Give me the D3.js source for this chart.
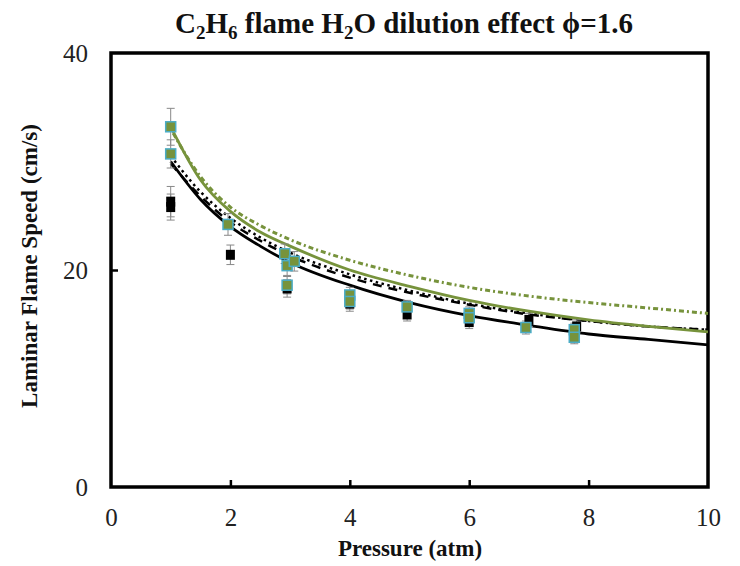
<!DOCTYPE html>
<html>
<head>
<meta charset="utf-8">
<script src="https://cdn.jsdelivr.net/npm/d3@7"></script>
<style>
  body { margin: 0; background: #fff; }
  svg { font-family: "Liberation Serif", "Times New Roman", serif; }
</style>
</head>
<body>
<svg id="chart" width="740" height="566"></svg>
<script>
// model curves (pressure grid shared by all)
var modelP = [1, 1.5, 2, 2.5, 3, 4, 5, 6, 7, 8, 9, 10];
var blackSolid  = [30.0, 26.5, 24.0, 22.2, 20.7, 18.6, 17.0, 15.8, 14.9, 14.1, 13.6, 13.1];
var blackDotted = [30.5, 27.2, 24.8, 23.0, 21.6, 19.6, 18.1, 16.9, 16.0, 15.3, 14.8, 14.5];
var blackDashed = [29.8, 26.8, 24.4, 22.7, 21.3, 19.3, 17.9, 16.8, 15.9, 15.3, 14.8, 14.5];
var greenSolid  = [33.2, 28.3, 25.4, 23.5, 22.2, 20.0, 18.5, 17.2, 16.2, 15.4, 14.8, 14.3];
var greenDotted = [33.0, 28.6, 25.8, 24.1, 22.8, 20.9, 19.5, 18.4, 17.6, 17.0, 16.5, 16.0];

// experimental points
var expBlackP   = [1, 1, 2, 2.95, 4, 4.96, 6, 7, 7.8];
var expBlackS   = [26.3, 25.8, 21.4, 18.3, 16.9, 15.9, 15.2, 15.4, 14.8];
var expBlackErr = [1.4, 1.2, 0.9, 0.8, 0.7, 0.6, 0.6, 0.6, 0.6];

var expGreenP   = [1, 1, 1.96, 2.91, 2.95, 3.07, 2.95, 4, 4, 4.96, 6, 6, 6.95, 7.76, 7.76];
var expGreenS   = [33.2, 30.7, 24.2, 21.5, 20.4, 20.8, 18.6, 17.7, 17.1, 16.6, 16.0, 15.6, 14.7, 14.5, 13.8];
var expGreenErr = [1.7, 1.3, 1.0, 0.9, 0.9, 0.9, 0.8, 0.7, 0.7, 0.6, 0.6, 0.6, 0.6, 0.6, 0.6];

var xTicks = [0, 2, 4, 6, 8, 10];
var yTicks = [0, 20, 40];

var GREEN = '#77933c', CYAN = '#4bacc6';

var svg = d3.select('#chart');
var pLeft = 111, pRight = 708, pTop = 53, pBottom = 487;

var x = d3.scaleLinear().domain([0, 10]).range([pLeft, pRight]);
var y = d3.scaleLinear().domain([0, 40]).range([pBottom, pTop]);

// axes (inner ticks)
var xAxis = svg.append('g').attr('transform', 'translate(0,' + pBottom + ')')
	.call(d3.axisBottom(x).tickValues(xTicks).tickSize(-7).tickPadding(21));
var yAxis = svg.append('g').attr('transform', 'translate(' + pLeft + ',0)')
	.call(d3.axisLeft(y).tickValues(yTicks).tickSize(-7).tickPadding(23));
[xAxis, yAxis].forEach(function(a) {
	a.select('.domain').remove();
	a.selectAll('line').attr('stroke', '#000').attr('stroke-width', 2.5);
	a.selectAll('text').attr('font-size', 25).attr('fill', '#222')
		.style('font-family', '"Liberation Serif", serif');
});
yAxis.selectAll('.tick').filter(function(d) { return d === 0 || d === 40; })
	.select('line').remove();
xAxis.selectAll('.tick').filter(function(d) { return d === 0 || d === 10; })
	.select('line').remove();

// frame
svg.append('rect')
	.attr('x', pLeft).attr('y', pTop)
	.attr('width', pRight - pLeft).attr('height', pBottom - pTop)
	.attr('fill', 'none').attr('stroke', '#000').attr('stroke-width', 3.5);

// model lines
var line = d3.line()
	.x(function(d) { return x(d[0]); })
	.y(function(d) { return y(d[1]); })
	.curve(d3.curveMonotoneX);

function drawModel(vals, color, dash, width) {
	svg.append('path')
		.datum(modelP.map(function(p, i) { return [p, vals[i]]; }))
		.attr('d', line)
		.attr('fill', 'none')
		.attr('stroke', color)
		.attr('stroke-width', width)
		.attr('stroke-dasharray', dash);
}
drawModel(greenDotted, GREEN, '2,3,5,3', 3);
drawModel(blackDotted, '#000', '2.5,3.5', 2.5);
drawModel(blackDashed, '#000', '9,7', 2.5);
drawModel(greenSolid, GREEN, null, 2.8);
drawModel(blackSolid, '#000', null, 2.8);

// error bars
function errBars(P, S, E) {
	var g = svg.append('g').attr('stroke', '#888').attr('stroke-width', 1);
	P.forEach(function(p, i) {
		var cx = x(p), y1 = y(S[i] + E[i]), y2 = y(S[i] - E[i]);
		g.append('line').attr('x1', cx).attr('x2', cx).attr('y1', y1).attr('y2', y2);
		g.append('line').attr('x1', cx - 4).attr('x2', cx + 4).attr('y1', y1).attr('y2', y1);
		g.append('line').attr('x1', cx - 4).attr('x2', cx + 4).attr('y1', y2).attr('y2', y2);
	});
}
errBars(expBlackP, expBlackS, expBlackErr);
errBars(expGreenP, expGreenS, expGreenErr);

// black squares
svg.append('g').selectAll('rect')
	.data(expBlackP.map(function(p, i) { return [p, expBlackS[i]]; }))
	.enter().append('rect')
	.attr('x', function(d) { return x(d[0]) - 4.5; })
	.attr('y', function(d) { return y(d[1]) - 5; })
	.attr('width', 9).attr('height', 10)
	.attr('fill', '#000');

// green squares
svg.append('g').selectAll('rect')
	.data(expGreenP.map(function(p, i) { return [p, expGreenS[i]]; }))
	.enter().append('rect')
	.attr('x', function(d) { return x(d[0]) - 5; })
	.attr('y', function(d) { return y(d[1]) - 5; })
	.attr('width', 10).attr('height', 10)
	.attr('fill', GREEN).attr('stroke', CYAN).attr('stroke-width', 1.5);

// title
var title = svg.append('text')
	.attr('x', 404).attr('y', 33)
	.attr('text-anchor', 'middle')
	.attr('font-size', 29).attr('font-weight', 'bold').attr('fill', '#111');
title.append('tspan').text('C');
title.append('tspan').text('2').attr('font-size', 19).attr('dy', 6);
title.append('tspan').text('H').attr('dy', -6);
title.append('tspan').text('6').attr('font-size', 19).attr('dy', 6);
title.append('tspan').text(' flame H').attr('dy', -6);
title.append('tspan').text('2').attr('font-size', 19).attr('dy', 6);
title.append('tspan').text('O dilution effect \u03d5=1.6').attr('dy', -6);

// axis titles
svg.append('text')
	.attr('x', 410).attr('y', 556)
	.attr('text-anchor', 'middle')
	.attr('font-size', 23).attr('font-weight', 'bold').attr('fill', '#111')
	.text('Pressure (atm)');
svg.append('text')
	.attr('transform', 'translate(37,266) rotate(-90)')
	.attr('text-anchor', 'middle')
	.attr('font-size', 23).attr('font-weight', 'bold').attr('fill', '#111')
	.text('Laminar Flame Speed (cm/s)');
</script>
</body>
</html>
